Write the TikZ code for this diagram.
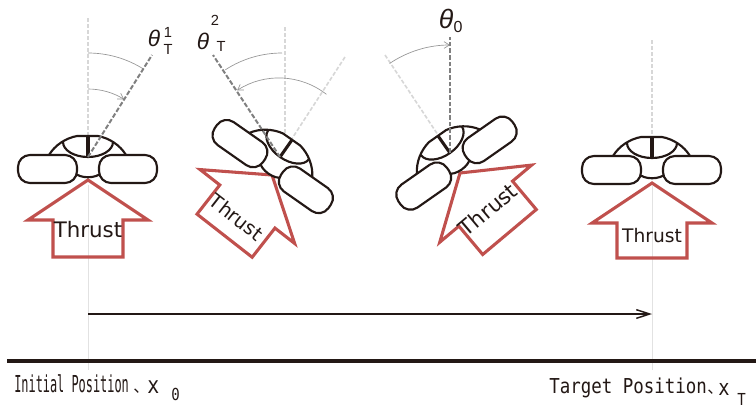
\documentclass[tikz,border=0pt]{standalone}
\usepackage{fontspec}
\usetikzlibrary{arrows.meta}
\newfontfamily\labfont{Liberation Sans}
\newfontfamily\thrustfont{DejaVu Sans}
\newfontfamily\posfont[FakeStretch=0.85]{DejaVu Sans Mono}
\newfontfamily\posnarrow[FakeStretch=0.51]{DejaVu Sans Mono}
\newfontfamily\cjk{Noto Sans CJK JP}
\definecolor{ink}{RGB}{35,24,21}
\definecolor{thrustred}{RGB}{192,80,77}
\definecolor{lightdash}{RGB}{215,215,215}
\definecolor{darkdash}{RGB}{128,128,128}
\definecolor{arcgray}{RGB}{150,150,150}
\definecolor{guide}{RGB}{226,226,226}
\tikzset{
  dronepen/.style={draw=ink, line width=1.6pt},
  thrustpen/.style={draw=thrustred, line width=2.3pt, line join=miter},
  thrusttext/.style={transform shape, inner sep=0, text=ink},
  lightline/.style={draw=lightdash, line width=1.2pt, dash pattern=on 3pt off 1.5pt},
  darkline/.style={draw=darkdash, line width=1.5pt, dash pattern=on 3.5pt off 1.5pt},
  guideline/.style={draw=guide, line width=0.6pt},
  arcpen/.style={draw=arcgray, line width=0.5pt},
  arcarrow/.style={arcpen, -{Straight Barb[length=4pt,width=5pt]}},
  thetastyle/.style={inner sep=0, text=ink, font=\labfont\itshape\fontsize{17}{17}\selectfont},
  idxstyle/.style={inner sep=0, text=ink, font=\labfont\fontsize{11}{11}\selectfont},
  postext/.style={anchor=base west, inner sep=0, text=ink},
  drone/.pic={
    % white backing of the body
    \fill[white] (-39,2) .. controls (-33,12) and (-22,19) .. (-11,21) -- (10,21)
      .. controls (21,19) and (32,12) .. (38,2) -- (38,-14) -- (14,-15)
      .. controls (9,-22) and (-9,-22) .. (-14,-15) -- (-39,-14) -- cycle;
    % canopy
    \path[dronepen] (-39,2) .. controls (-33,12) and (-22,19) .. (-11,21) -- (10,21)
      .. controls (21,19) and (32,12) .. (38,2);
    \path[dronepen] (-25,15) arc[start angle=180, end angle=360, x radius=25, y radius=15];
    \path[draw=ink, line width=2.3pt] (0,21) -- (0,0);
    % lower hull between the rotors
    \path[dronepen] (-14,-15) .. controls (-9,-22) and (9,-22) .. (14,-15);
    % rotors
    \path[dronepen, fill=white, rounded corners=9pt] (-70,-26) -- (-11,-26) -- (-11,2) -- (-70,2) -- cycle;
    \path[dronepen, fill=white, rounded corners=9pt] (11,-26) -- (69,-26) -- (69,2) -- (11,2) -- cycle;
  }
}
\begin{document}
\begin{tikzpicture}[x=0.75pt, y=0.75pt]
\useasboundingbox (0,0) rectangle (756,-408);
\fill[white] (0,0) rectangle (756,-408);

% guide lines through the start and goal positions
\coordinate (g1top) at (88,-185);
\coordinate (g1bot) at (88,-370);
\coordinate (g4top) at (652,-186);
\coordinate (g4bot) at (652,-370);
\draw[guideline] (g1top) -- (g1bot);
\draw[guideline] (g4top) -- (g4bot);

% reference directions (light dashed)
\coordinate (c1) at (88,-157);
\coordinate (c2) at (280,-157);
\coordinate (c3) at (450,-153);
\coordinate (c4) at (652,-158);
\coordinate (v1) at (88,-18);
\coordinate (v2) at (285,-27);
\coordinate (v2b) at (285,-150);
\coordinate (v4) at (652,-40);
\coordinate (a2) at (345,-57);
\coordinate (a3) at (385,-55);
\draw[lightline] (v1) -- (c1);
\draw[lightline] (v2) -- (v2b);
\draw[lightline] (a2) -- (c2);
\draw[lightline] (a3) -- (c3);
\draw[lightline] (v4) -- (c4);

% angle arcs
\draw[arcpen] (88,-157) ++(90:104) arc[start angle=90, end angle=58, radius=104];
\draw[arcarrow] (88,-157) ++(90:68) arc[start angle=90, end angle=58, radius=68];
\draw[arcpen] (282,-157) ++(90:104) arc[start angle=90, end angle=123, radius=104];
\draw[arcarrow] (279,-155) ++(52:77) arc[start angle=52, end angle=123, radius=77];
\draw[arcarrow] (450,-153) ++(124:108) arc[start angle=124, end angle=90, radius=108];

% thrust arrows
\begin{scope}[shift={(88,-180)}]
  \draw[thrustpen] (0,0) -- (60,-40) -- (35,-40) -- (35,-77) -- (-35,-77) -- (-35,-40) -- (-60,-40) -- cycle;
  \node[thrusttext, font=\thrustfont\fontsize{16}{16}\selectfont] (thr1) at (0,-50) {Thrust};
\end{scope}
\begin{scope}[shift={(272,-175)}, rotate=-38]
  \draw[thrustpen] (0,0) -- (60,-40) -- (35,-40) -- (35,-77) -- (-35,-77) -- (-35,-40) -- (-60,-40) -- cycle;
  \node[thrusttext, font=\thrustfont\fontsize{14.5}{14.5}\selectfont] (thr2) at (-2,-55) {Thrust};
\end{scope}
\begin{scope}[shift={(460,-173)}, rotate=40]
  \draw[thrustpen] (0,0) -- (60,-40) -- (35,-40) -- (35,-77) -- (-35,-77) -- (-35,-40) -- (-60,-40) -- cycle;
  \node[thrusttext, font=\thrustfont\fontsize{16}{16}\selectfont] (thr3) at (-2,-46) {Thrust};
\end{scope}
\begin{scope}[shift={(652,-183)}]
  \draw[thrustpen] (0,0) -- (60,-40) -- (35,-40) -- (35,-75) -- (-35,-75) -- (-35,-40) -- (-60,-40) -- cycle;
  \node[thrusttext, font=\thrustfont\fontsize{14}{14}\selectfont] (thr4) at (0,-53) {Thrust};
\end{scope}

% drones
\pic at (c1) {drone};
\pic[rotate=-35] at (c2) {drone};
\pic[rotate=35] at (c3) {drone};
\pic at (c4) {drone};

% target directions (dark dashed)
\coordinate (t1) at (152,-55);
\coordinate (t2) at (213,-55);
\coordinate (t3) at (450,-37);
\draw[darkline] (c1) -- (t1);
\draw[darkline] (c2) -- (t2);
\draw[darkline] (c3) -- (t3);

% angle labels
\node[thetastyle] (th1) at (154,-38) {θ};
\node[idxstyle] (th1s) at (168,-32) {1};
\node[idxstyle] (th1t) at (168,-49) {T};
\node[thetastyle] (th2) at (203,-41) {θ};
\node[idxstyle] (th2s) at (215,-20) {2};
\node[idxstyle] (th2t) at (221,-46) {T};
\node[thetastyle, font=\labfont\itshape\fontsize{20}{20}\selectfont] (th0) at (446,-19) {θ};
\node[idxstyle, font=\labfont\fontsize{12}{12}\selectfont] (th0s) at (458,-27) {0};

% travel arrow and ground
\coordinate (start) at (88,-314);
\coordinate (goal) at (652,-314);
\draw[draw=ink, line width=1.1pt, -{Straight Barb[length=10pt,width=6.5pt]}] (start) -- (goal);
\coordinate (groundL) at (7,-361);
\coordinate (groundR) at (756,-361);
\draw[draw=ink, line width=2.3pt] (groundL) -- (groundR);

% position labels
\node[postext, font=\posnarrow\fontsize{17.5}{17.5}\selectfont] (init) at (14,-392) {Initial Position};
\node[postext, font=\cjk\fontsize{12}{12}\selectfont] (initc) at (133,-392) {、};
\node[postext, font=\posfont\fontsize{17.5}{17.5}\selectfont] (initx) at (147,-393) {x};
\node[postext, font=\posfont\fontsize{12.4}{12.4}\selectfont] (init0) at (171,-400) {0};
\node[postext, font=\posfont\fontsize{15.4}{15.4}\selectfont] (targ) at (549,-393) {Target Position};
\node[postext, font=\cjk\fontsize{12}{12}\selectfont] (targc) at (707,-393) {、};
\node[postext, font=\posfont\fontsize{16.5}{16.5}\selectfont] (targx) at (718,-395) {x};
\node[postext, font=\posfont\fontsize{12.4}{12.4}\selectfont] (targT) at (737,-405) {T};
\end{tikzpicture}
\end{document}
